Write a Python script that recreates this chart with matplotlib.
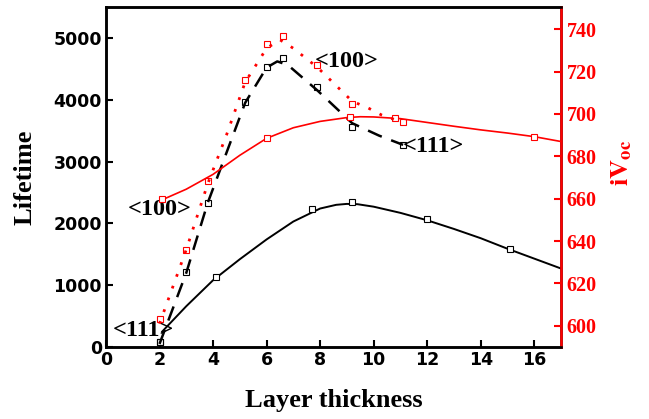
import matplotlib
matplotlib.use("Agg")
import matplotlib.pyplot as plt

plt.rcParams['mathtext.fontset'] = 'stix'

# Lifetime, <111> (linha cheia preta)
x_vida_111 = [2.0, 4.1, 7.7, 9.2, 12.0, 15.1]
y_vida_111 = [80, 1130, 2230, 2340, 2065, 1590]
x_ajuste_111 = [2.1, 3, 4, 5, 6, 7, 8, 8.6, 9, 9.4, 10, 11, 12, 13, 14, 15, 16, 17]
y_ajuste_111 = [250, 660, 1080, 1420, 1740, 2030, 2240, 2300, 2315, 2310, 2270, 2170, 2050, 1910, 1760, 1590, 1430, 1270]

# Lifetime, <100> (linha tracejada preta)
x_vida_100 = [2.0, 3.0, 3.8, 5.2, 6.0, 6.6, 7.9, 9.2, 11.1]
y_vida_100 = [80, 1210, 2330, 3960, 4530, 4670, 4200, 3560, 3260]
x_trac_100 = [2.0, 3.0, 3.8, 5.2, 6.0, 6.4, 6.8, 7.9, 9.2, 10.2, 11.1]
y_trac_100 = [50, 1200, 2330, 3950, 4520, 4620, 4560, 4150, 3620, 3420, 3270]

# iVoc, linha cheia vermelha
x_voc_sol = [2.1, 6.0, 9.1, 10.8, 16.0]
y_voc_sol = [660, 688.5, 698.6, 698.1, 689.3]
x_voc_aj = [2.1, 3, 4, 5, 6, 7, 8, 9, 9.5, 10, 11, 12, 13, 14, 15, 16, 17]
y_voc_aj = [659.5, 664.5, 671.5, 680.5, 688.5, 693.5, 696.5, 698.3, 698.7, 698.6, 697.8, 696, 694.2, 692.5, 691, 689.3, 687]

# iVoc, linha pontilhada vermelha
x_voc_pt = [2.0, 3.0, 3.8, 5.2, 6.0, 6.6, 7.9, 9.2, 11.1]
y_voc_pt = [603, 636, 668.5, 716, 733, 737, 723, 704.5, 696]
x_pont = [2.0, 3.0, 3.8, 4.5, 5.2, 6.0, 6.5, 7.0, 7.9, 9.2, 9.8, 10.3, 11.1]
y_pont = [601, 636, 667, 690, 715, 731, 735, 731, 722, 706, 702.8, 699.5, 696]

fig = plt.figure(figsize=(6.49, 4.19), dpi=100)
ax = fig.add_axes([0.1633, 0.1718, 0.7011, 0.8115])
ax2 = ax.twinx()

ax.plot(x_ajuste_111, y_ajuste_111, color='black', lw=1.4)
ax.plot(x_vida_111, y_vida_111, ls='none', marker='s', ms=4, mfc='white', mec='black', mew=0.8)
ax.plot(x_trac_100, y_trac_100, color='black', lw=1.8, ls=(0, (6, 4)))
ax.plot(x_vida_100, y_vida_100, ls='none', marker='s', ms=4, mfc='none', mec='black', mew=0.8)

ax2.plot(x_voc_aj, y_voc_aj, color='red', lw=1.2)
ax2.plot(x_voc_sol, y_voc_sol, ls='none', marker='s', ms=4, mfc='white', mec='red', mew=0.8)
ax2.plot(x_pont, y_pont, color='red', lw=2.0, ls=(0, (1, 3.5)))
ax2.plot(x_voc_pt, y_voc_pt, ls='none', marker='s', ms=4, mfc='none', mec='red', mew=0.8)

ax.set_xlim(0, 17)
ax.set_ylim(0, 5500)
ax2.set_ylim(590, 750.5)
ax.set_xticks(range(0, 17, 2))
ax.set_yticks(range(0, 5001, 1000))
ax2.set_yticks(range(600, 741, 20))

for s in ax.spines.values():
    s.set_linewidth(1.8)
for s in ax2.spines.values():
    s.set_linewidth(1.8)
ax2.spines['right'].set_color('red')

ax.tick_params(direction='in', length=5, width=1.5, labelsize=12.5, pad=3)
ax.tick_params(axis='y', right=False)
for lb in ax.get_xticklabels() + ax.get_yticklabels():
    lb.set_fontweight('bold')
    lb.set_family('DejaVu Sans')
ax2.tick_params(direction='in', length=5, width=1.5, colors='red', labelsize=14.5, pad=4)
for lb in ax2.get_yticklabels():
    lb.set_fontweight('bold')
    lb.set_family('Liberation Serif')

ax.set_xlabel('Layer thickness', fontsize=19, fontweight='bold', family='Liberation Serif', labelpad=14)
ax.set_ylabel('Lifetime', fontsize=19, fontweight='bold', family='Liberation Serif', labelpad=12)
ax2.set_ylabel(r'$\mathbf{iV_{oc}}$', fontsize=19, color='red', labelpad=10)
ax2.yaxis.set_label_coords(1.105, 0.54)

# Rótulos das curvas
rot = dict(fontsize=17.5, fontweight='bold', family='Liberation Serif', color='black')
ax.text(7.8, 4620, '<100>', va='center', **rot)
ax.text(11.1, 3240, '<111>', va='center', **rot)
ax.text(0.83, 2230, '<100>', va='center', **rot)
ax.text(0.26, 270, '<111>', va='center', **rot)

plt.savefig("out.png", dpi=100)
plt.close()
